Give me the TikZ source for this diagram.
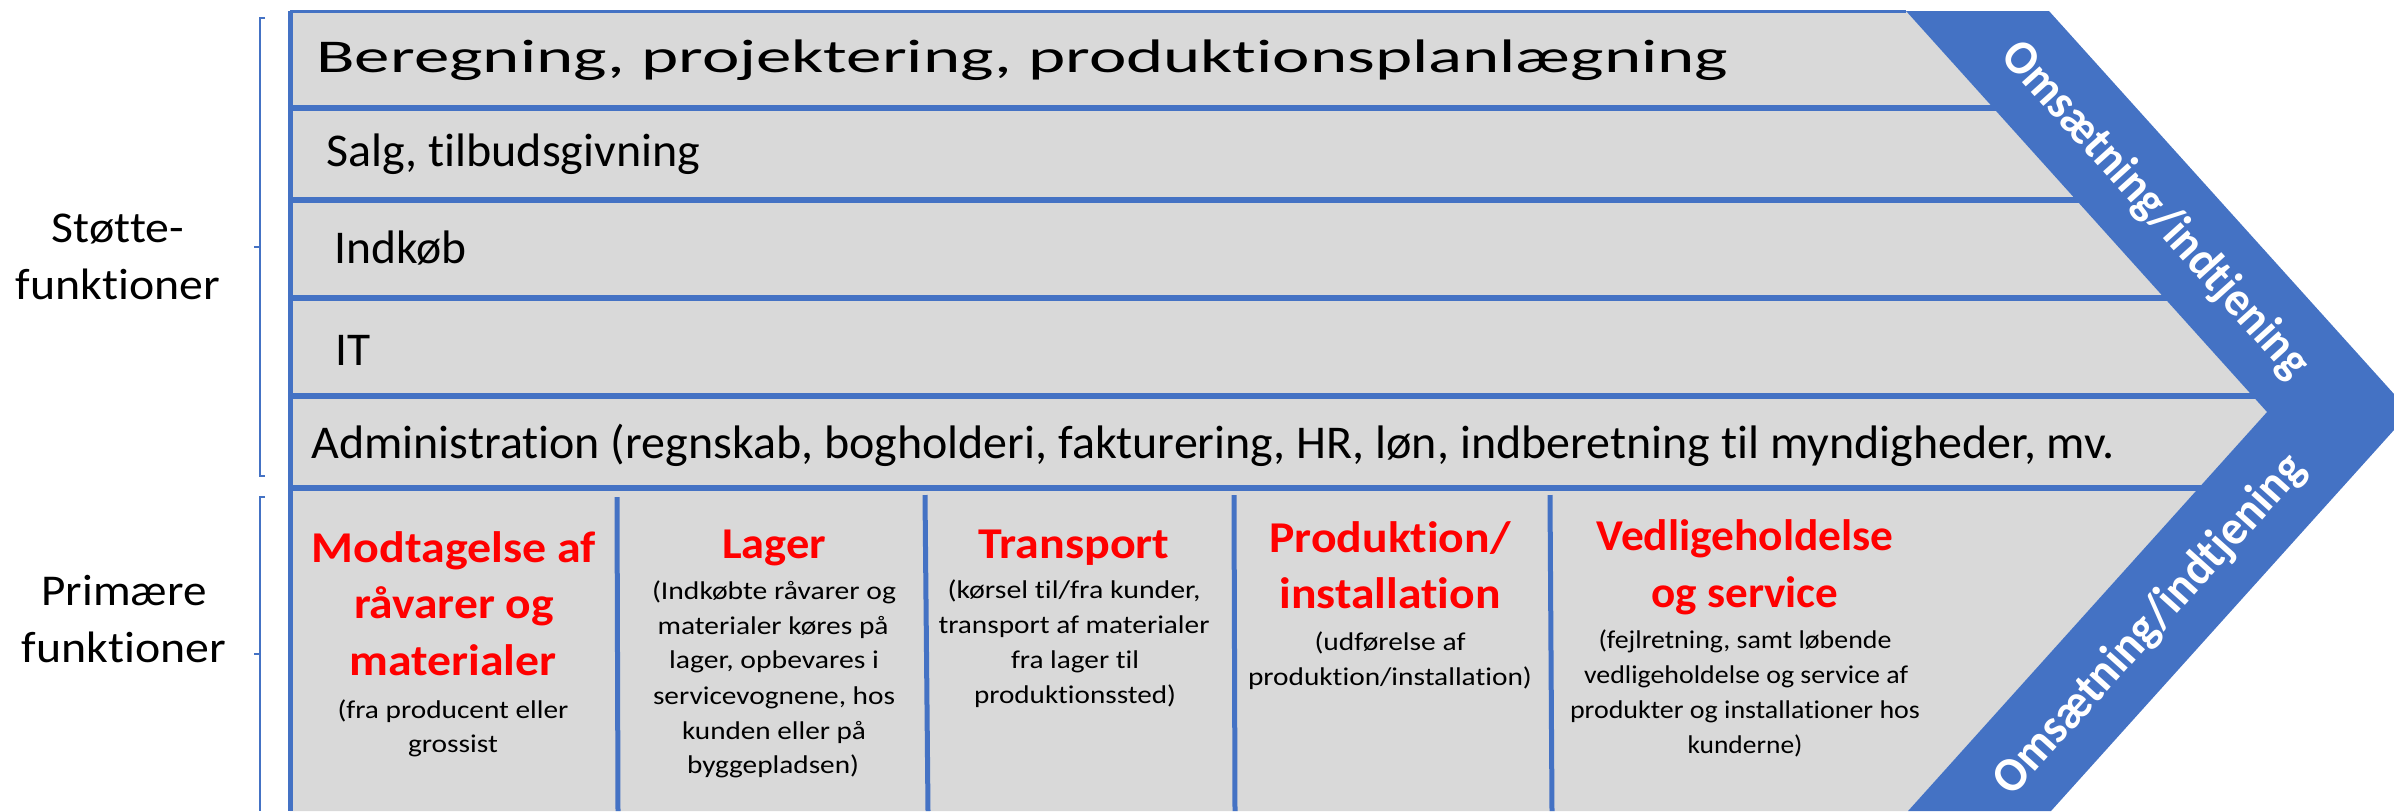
\documentclass[tikz,border=0pt]{standalone}
\usepackage{fontspec}
\setmainfont{Carlito}[Ligatures={NoCommon,NoContextual,NoRare},RawFeature={-liga;-clig;-dlig;-calt;-rlig}]
\usepackage{graphicx}
\definecolor{vblue}{HTML}{4472C4}
\definecolor{vgrey}{HTML}{D9D9D9}
\definecolor{vred}{HTML}{FF0000}
\newdimen\px \px=0.5pt
\newcommand\fitw[2]{\resizebox{#1\px}{\height}{#2}}
\newcommand\fitwh[2]{\resizebox{#1\px}{1.22\height}{#2}}
\begin{document}
\begin{tikzpicture}[x=0.5pt,y=-0.5pt,
  rowlbl/.style={anchor=base west,inner sep=0pt,font=\fontsize{23.5}{28}\selectfont},
  sidelbl/.style={anchor=base,inner sep=0pt,font=\fontsize{22}{26}\selectfont},
  ttl/.style={anchor=base,inner sep=0pt,text=vred,font=\fontsize{22}{26}\selectfont\bfseries},
  dsc/.style={anchor=base,inner sep=0pt,font=\fontsize{12.8}{15}\selectfont},
  bandtxt/.style={inner sep=0pt,text=white,font=\fontsize{20}{24}\selectfont\bfseries},
  rowline/.style={draw=vblue,line width=3pt},
  colline/.style={draw=vblue,line width=2.5pt},
  bracel/.style={draw=vblue,line width=1pt}]
\useasboundingbox (0,0) rectangle (2394,811);
% grey body
\fill[vgrey] (290,11) -- (1906,11) -- (2267,412) -- (1908,811) -- (290,811) -- cycle;
% row separators
\draw[rowline] (290,108) -- (2003,108);
\draw[rowline] (290,200) -- (2086,200);
\draw[rowline] (290,298) -- (2174,298);
\draw[rowline] (290,396) -- (2262,396);
\draw[rowline] (290,488) -- (2209,488);
% column separators
\draw[colline] (617,497) -- (618,811);
\draw[colline] (925,495) -- (928,811);
\draw[colline] (1234,495) -- (1235,811);
\draw[colline] (1550,495) -- (1552,811);
% borders
\draw[draw=vblue,line width=2.5pt] (290,11) -- (290,811);
\draw[draw=vblue,line width=1.5pt] (290,11) -- (1906,11);
% blue band
\fill[vblue] (1906,11) -- (2049,11) -- (2394,394) -- (2394,430) -- (2051,811) -- (1908,811) -- (2267,412) -- cycle;
% braces
\draw[bracel] (265,18) -- (260,18) -- (260,476) -- (265,476);
\draw[bracel] (260,247) -- (254,247);
\draw[bracel] (265,497) -- (260,497) -- (260,811);
\draw[bracel] (260,654) -- (254,654);
% side labels
\node[sidelbl] (s1) at (118,242) {\fitw{132}{Støtte-}};
\node[sidelbl] (s2) at (118,299) {\fitw{204}{funktioner}};
\node[sidelbl] (p1) at (124,605) {\fitw{165}{Primære}};
\node[sidelbl] (p2) at (124,662) {\fitw{204}{funktioner}};
% support rows
\node[rowlbl] (r1) at (316,72) {\fitw{1412}{Beregning, projektering, produktionsplanlægning}};
\node[rowlbl] (r2) at (326,166) {\fitw{374}{Salg, tilbudsgivning}};
\node[rowlbl] (r3) at (334,263) {\fitw{132}{Indkøb}};
\node[rowlbl] (r4) at (335,365) {\fitw{35}{IT}};
\node[rowlbl] (r5) at (311,458) {\fitw{1803}{Administration (regnskab, bogholderi, fakturering, HR, løn, indberetning til myndigheder, mv.}};
% column 1
\node[ttl] (a1) at (454,562) {\fitw{284}{Modtagelse af}};
\node[ttl] (a2) at (454,618) {\fitw{200}{råvarer og}};
\node[ttl] (a3) at (453,675) {\fitw{207}{materialer}};
\node[dsc] (a4) at (453,718) {\fitw{231}{(fra producent eller}};
\node[dsc] (a5) at (453,752) {\fitw{90}{grossist}};
% column 2
\node[ttl] (b1) at (774,558) {\fitw{104}{Lager}};
\node[dsc] (b2) at (774,599) {\fitw{244}{(Indkøbte råvarer og}};
\node[dsc] (b3) at (773,634) {\fitw{231}{materialer køres på}};
\node[dsc] (b4) at (774,668) {\fitw{210}{lager, opbevares i}};
\node[dsc] (b5) at (774,704) {\fitw{242}{servicevognene, hos}};
\node[dsc] (b6) at (774,739) {\fitw{184}{kunden eller på}};
\node[dsc] (b7) at (773,773) {\fitw{172}{byggepladsen)}};
% column 3
\node[ttl] (c1) at (1074,558) {\fitw{191}{Transport}};
\node[dsc] (c2) at (1074,598) {\fitw{253}{(kørsel til/fra kunder,}};
\node[dsc] (c3) at (1074,633) {\fitw{271}{transport af materialer}};
\node[dsc] (c4) at (1075,668) {\fitw{128}{fra lager til}};
\node[dsc] (c5) at (1075,703) {\fitw{202}{produktionssted)}};
% column 4
\node[ttl] (d1) at (1390,552) {\fitw{241}{Produktion/}};
\node[ttl] (d2) at (1390,608) {\fitw{221}{installation}};
\node[dsc] (d3) at (1390,650) {\fitw{151}{(udførelse af}};
\node[dsc] (d4) at (1390,685) {\fitw{284}{produktion/installation)}};
% column 5
\node[ttl] (e1) at (1745,550) {\fitw{297}{Vedligeholdelse}};
\node[ttl] (e2) at (1745,607) {\fitw{187}{og service}};
\node[dsc] (e3) at (1745,648) {\fitw{293}{(fejlretning, samt løbende}};
\node[dsc] (e4) at (1746,683) {\fitw{324}{vedligeholdelse og service af}};
\node[dsc] (e5) at (1745,718) {\fitw{350}{produkter og installationer hos}};
\node[dsc] (e6) at (1745,753) {\fitw{115}{kunderne)}};
% band texts
\node[bandtxt,rotate=-48] (o1) at (2155,210) {\fitwh{435}{Omsætning/indtjening}};
\node[bandtxt,rotate=48] (o2) at (2150,625) {\fitwh{440}{Omsætning/indtjening}};
\end{tikzpicture}
\end{document}
